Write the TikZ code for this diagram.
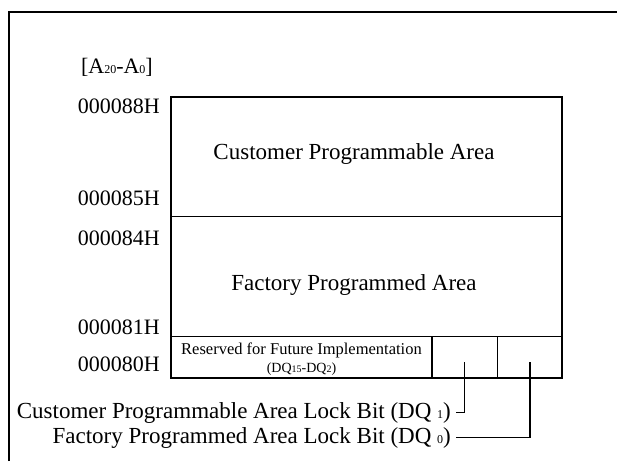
\documentclass[tikz,border=0pt]{standalone}
\usepackage{fontspec}
\setmainfont{Liberation Serif}
\newcommand{\smalldig}[1]{{\fontsize{12}{12}\selectfont #1}}
\newcommand{\tinydig}[1]{{\fontsize{10}{10}\selectfont #1}}
\begin{document}
\begin{tikzpicture}[x=1pt,y=-1pt,
    addr/.style={anchor=base east,inner sep=0pt,font=\fontsize{22}{26}\selectfont},
    areatext/.style={anchor=base,inner sep=0pt,font=\fontsize{23}{27}\selectfont},
    restext/.style={anchor=base,inner sep=0pt,font=\fontsize{16.5}{19}\selectfont},
    locktext/.style={anchor=base east,inner sep=0pt,font=\fontsize{23}{27}\selectfont},
    boxline/.style={line width=1.4pt},
    bitline/.style={line width=1.4pt}]
    \useasboundingbox (0,0) rectangle (617,461);
    % outer frame
    \draw[line width=2pt] (9,461) -- (9,12) -- (617,12);
    % memory map
    \coordinate (nw) at (171,97);
    \coordinate (se) at (562,378);
    \coordinate (cutA) at (171,216.5);
    \coordinate (cutB) at (171,336.5);
    \draw[boxline] (nw) rectangle (se);
    \draw[boxline] (cutA) -- (cutA -| se);
    \draw[boxline] (cutB) -- (cutB -| se);
    \draw[boxline] (432,336.5) -- (432,378);
    \draw[line width=1pt] (497,336.5) -- (497,378);
    \coordinate (dqone) at (464.5,362);
    \coordinate (dqzero) at (530,362);
    % addresses
    \node[addr] (range) at (153,73) {[A\smalldig{20}-A\smalldig{0}]};
    \node[addr] (a88) at (160,113) {000088H};
    \node[addr] (a85) at (160,205) {000085H};
    \node[addr] (a84) at (160,245) {000084H};
    \node[addr] (a81) at (160,334) {000081H};
    \node[addr] (a80) at (160,371) {000080H};
    % areas
    \node[areatext] (cust) at (354,159) {Customer Programmable Area};
    \node[areatext] (fact) at (354,290) {Factory Programmed Area};
    \node[restext] (res) at (301.5,354) {Reserved for Future Implementation};
    \node[restext,font=\fontsize{14}{16}\selectfont] (resdq) at (301.5,372) {(DQ\tinydig{15}-DQ\tinydig{2})};
    % lock bits
    \node[locktext] (lockone) at (451,418) {Customer Programmable Area Lock Bit (DQ \smalldig{1})};
    \node[locktext] (lockzero) at (451,443) {Factory Programmed Area Lock Bit (DQ \smalldig{0})};
    \draw[bitline] (dqone) |- ([xshift=5pt]lockone.east);
    \draw[bitline] (dqzero) |- ([xshift=5pt]lockzero.east);
\end{tikzpicture}
\end{document}
